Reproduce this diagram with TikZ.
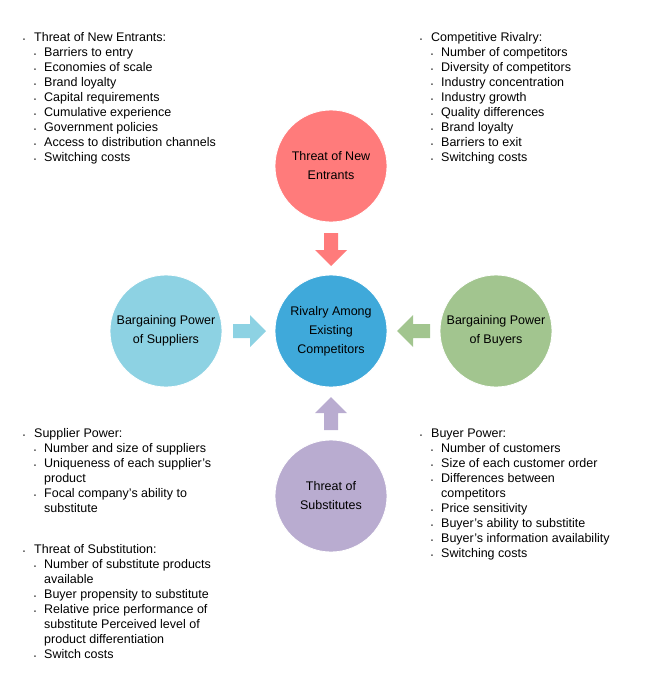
\documentclass[tikz,border=0pt]{standalone}
\usepackage{fontspec}
\setmainfont{Liberation Sans}
\usepackage{graphicx}
\usepackage{xcolor}
\definecolor{cred}{HTML}{FF7B7B}
\definecolor{cblue}{HTML}{3FA9DA}
\definecolor{clblue}{HTML}{8DD2E3}
\definecolor{cgreen}{HTML}{A2C58F}
\definecolor{cpurple}{HTML}{B9ACD0}
\newcommand{\bul}{\raisebox{0.1ex}{\scalebox{0.45}{\textbullet}}}
\newcommand{\tp}[1]{\bul & \multicolumn{2}{@{}l@{}}{#1}\\}
\newcommand{\subit}[1]{ & \bul & #1\\}
\newcommand{\cn}[1]{ & & #1\\}
\begin{document}
\begin{tikzpicture}[x=1pt,y=-1pt,
  circ/.style={circle,minimum size=112pt,inner sep=0pt,draw=white,line width=0.8pt,align=center,font=\fontsize{12.5}{19}\selectfont},
  lst/.style={anchor=north west,inner sep=0pt,font=\fontsize{12.5}{15}\selectfont}]
\useasboundingbox (0,0) rectangle (663,680);
\node[circ,fill=cred] (top) at (331,166) {Threat of New\\Entrants};
\node[circ,fill=cblue] (mid) at (331,331) {Rivalry Among\\Existing\\Competitors};
\node[circ,fill=clblue] (lef) at (166,331) {Bargaining Power\\of Suppliers};
\node[circ,fill=cgreen] (rig) at (496,331) {Bargaining Power\\of Buyers};
\node[circ,fill=cpurple] (bot) at (331,496) {Threat of\\Substitutes};
% block arrows
\fill[cred] (324,233) -- (338,233) -- (338,250) -- (347,250) -- (331,266) -- (315,250) -- (324,250) -- cycle;
\fill[clblue] (233,324) -- (233,338) -- (250,338) -- (250,347) -- (266,331) -- (250,315) -- (250,324) -- cycle;
\fill[cgreen] (430,324) -- (430,338) -- (413,338) -- (413,347) -- (397,331) -- (413,315) -- (413,324) -- cycle;
\fill[cpurple] (324,430) -- (338,430) -- (338,413) -- (347,413) -- (331,397) -- (315,413) -- (324,413) -- cycle;
\node[lst] (l1) at (23,31) {\begin{tabular}{@{}p{11pt}@{}p{10pt}@{}l@{}}
\tp{Threat of New Entrants:}
\subit{Barriers to entry}
\subit{Economies of scale}
\subit{Brand loyalty}
\subit{Capital requirements}
\subit{Cumulative experience}
\subit{Government policies}
\subit{Access to distribution channels}
\subit{Switching costs}
\end{tabular}};
\node[lst] (l2) at (420,31) {\begin{tabular}{@{}p{11pt}@{}p{10pt}@{}l@{}}
\tp{Competitive Rivalry:}
\subit{Number of competitors}
\subit{Diversity of competitors}
\subit{Industry concentration}
\subit{Industry growth}
\subit{Quality differences}
\subit{Brand loyalty}
\subit{Barriers to exit}
\subit{Switching costs}
\end{tabular}};
\node[lst] (l3) at (23,427) {\begin{tabular}{@{}p{11pt}@{}p{10pt}@{}l@{}}
\tp{Supplier Power:}
\subit{Number and size of suppliers}
\subit{Uniqueness of each supplier's}
\cn{product}
\subit{Focal company's ability to}
\cn{substitute}
\end{tabular}};
\node[lst] (l4) at (23,543) {\begin{tabular}{@{}p{11pt}@{}p{10pt}@{}l@{}}
\tp{Threat of Substitution:}
\subit{Number of substitute products}
\cn{available}
\subit{Buyer propensity to substitute}
\subit{Relative price performance of}
\cn{substitute Perceived level of}
\cn{product differentiation}
\subit{Switch costs}
\end{tabular}};
\node[lst] (l5) at (420,427) {\begin{tabular}{@{}p{11pt}@{}p{10pt}@{}l@{}}
\tp{Buyer Power:}
\subit{Number of customers}
\subit{Size of each customer order}
\subit{Differences between}
\cn{competitors}
\subit{Price sensitivity}
\subit{Buyer's ability to substitite}
\subit{Buyer's information availability}
\subit{Switching costs}
\end{tabular}};
\end{tikzpicture}
\end{document}
